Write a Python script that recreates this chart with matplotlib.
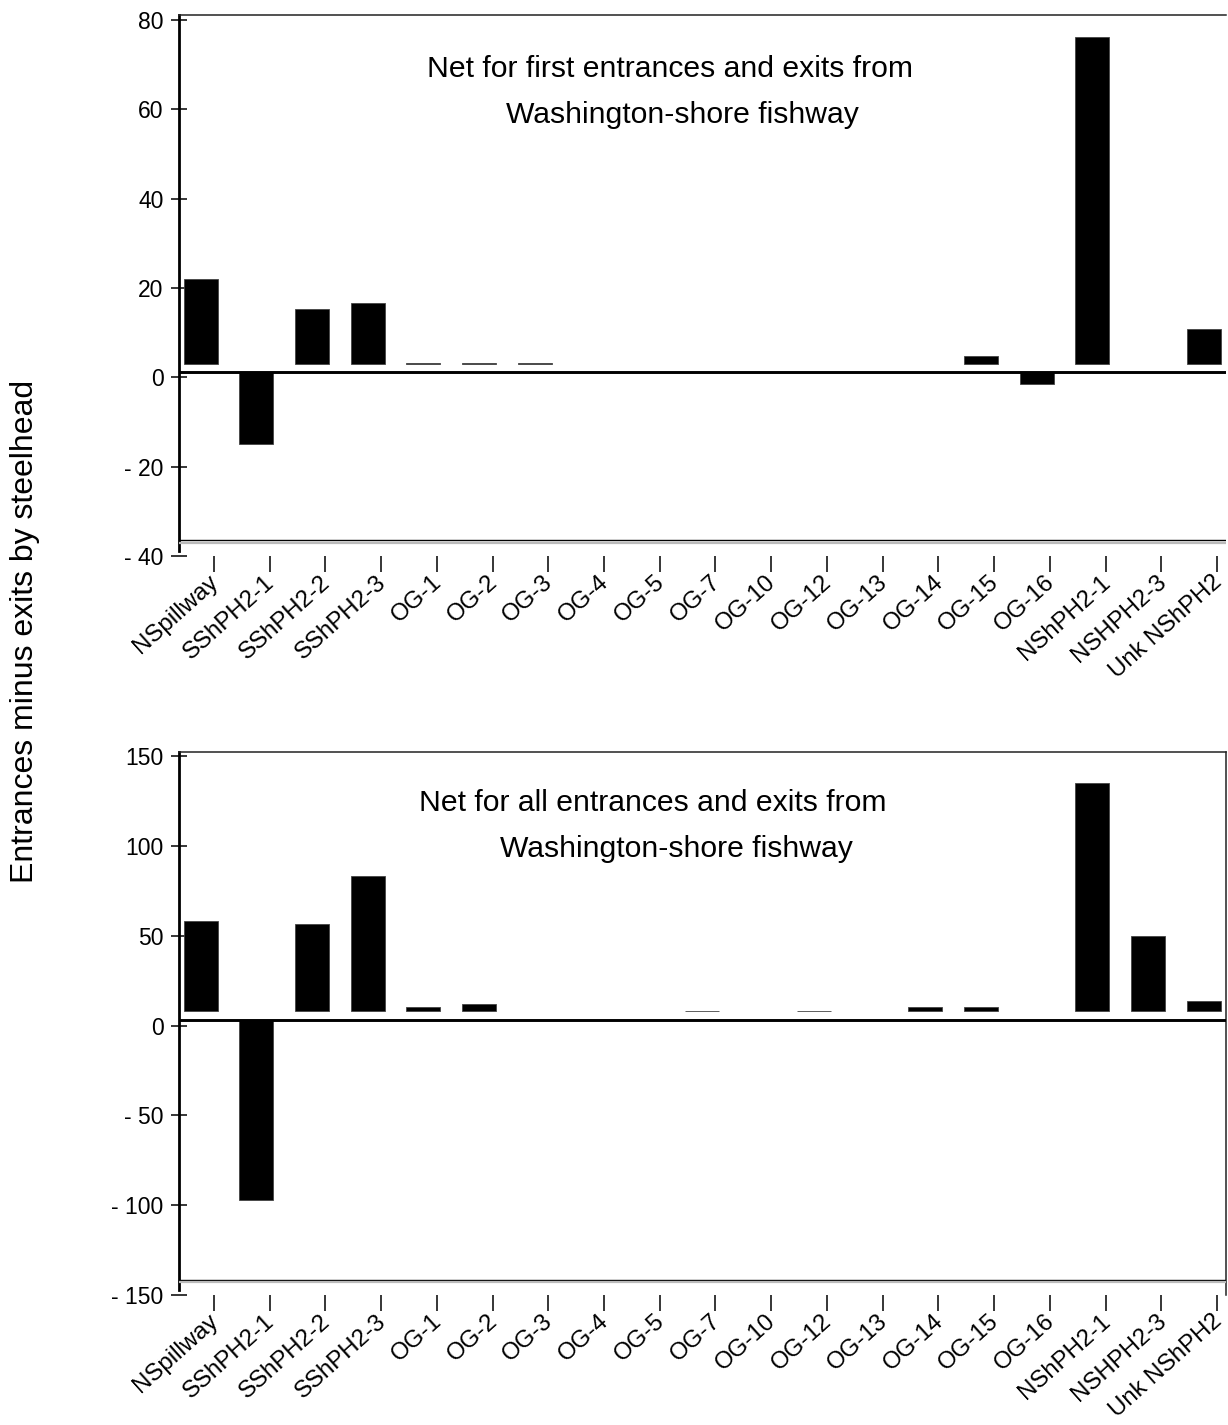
import numpy as np
import matplotlib.pyplot as plt
from matplotlib.ticker import FuncFormatter

plt.rcParams['font.family'] = ['Liberation Sans', 'DejaVu Sans']

# categories along the x axis (same for both panels)
sites = ['NSpillway', 'SShPH2-1', 'SShPH2-2', 'SShPH2-3', 'OG-1', 'OG-2', 'OG-3',
         'OG-4', 'OG-5', 'OG-7', 'OG-10', 'OG-12', 'OG-13', 'OG-14', 'OG-15',
         'OG-16', 'NShPH2-1', 'NSHPH2-3', 'Unk NShPH2']

# bar ends read off the axis scale, None = no bar drawn
first_net = [22.0, -15.0, 15.3, 16.6, 3.3, 3.3, 3.3,
             None, None, None, None, None, None, None, 4.7,
             -1.6, 76.2, None, 10.8]
all_net = [58.3, -97.4, 56.7, 83.3, 10.2, 12.0, None,
           None, None, 8.3, None, 8.3, None, 10.2, 10.2,
           None, 134.8, 49.8, 13.5]

first_ticks = [80, 60, 40, 20, 0, -20, -40]
all_ticks = [150, 100, 50, 0, -50, -100, -150]

W, H = 1228, 1425
fig = plt.figure(figsize=(W / 100, H / 100), dpi=100)


def fmt(v, pos):
    v = int(round(v))
    return '- %d' % abs(v) if v < 0 else '%d' % v


def panel(ax, vals, ticks, ylim, zero_line, pos_base, floor_line, shade):
    x = np.arange(len(sites))
    xs, bottoms, heights = [], [], []
    for i, v in zip(x, vals):
        if v is None:
            continue
        base = pos_base if v > 0 else zero_line
        xs.append(i)
        bottoms.append(base)
        heights.append(v - base)
    ax.bar(xs, heights, bottom=bottoms, width=0.61, color='black',
           edgecolor='#444444', linewidth=0.6, zorder=3)

    ax.axhline(zero_line, color='black', lw=2.1, zorder=4)
    ax.axhline(floor_line, color='black', lw=1.0, zorder=4)
    ax.axhline(floor_line - shade, color='#bbbbbb', lw=1.6, zorder=4)

    ax.set_xlim(-0.386, 18.4)
    ax.set_ylim(*ylim)
    ax.set_yticks(ticks)
    ax.yaxis.set_major_formatter(FuncFormatter(fmt))
    ax.tick_params(axis='y', direction='inout', length=12, width=1.1,
                   pad=5, labelsize=16.5)

    ax.set_xticks(x + 0.24)
    ax.set_xticklabels(sites)
    ax.tick_params(axis='x', direction='out', length=11.5, width=1.1,
                   pad=4, labelsize=17.3)
    for lab in ax.get_xticklabels():
        lab.set_rotation(42)
        lab.set_ha('right')
        lab.set_va('center_baseline')
        lab.set_rotation_mode('anchor')

    ax.spines['bottom'].set_visible(False)
    ax.spines['left'].set_linewidth(2.0)
    ax.spines['left'].set_bounds(floor_line - shade * 4, ylim[1])
    ax.spines['top'].set_linewidth(1.1)
    ax.spines['top'].set_color('#222222')
    ax.spines['right'].set_linewidth(1.1)
    ax.spines['right'].set_color('#222222')


ax1 = fig.add_axes([179 / W, 1 - 556 / H, (1226 - 179) / W, (556 - 15) / H])
panel(ax1, first_net, first_ticks, (-40, 81.1), 1.2, 3.0, -36.4, 0.6)
ax1.spines['right'].set_visible(False)

ax2 = fig.add_axes([179 / W, 1 - 1295 / H, (1226 - 179) / W, (1295 - 751.7) / H])
panel(ax2, all_net, all_ticks, (-150, 152.4), 3.3, 7.8, -141.5, 1.4)

fig.text(670 / W, 1 - 77 / H, 'Net for first entrances and exits from',
         ha='center', va='baseline', fontsize=21.7)
fig.text(682 / W, 1 - 123 / H, 'Washington-shore fishway',
         ha='center', va='baseline', fontsize=21.7)
fig.text(653 / W, 1 - 811 / H, 'Net for all entrances and exits from',
         ha='center', va='baseline', fontsize=21.7)
fig.text(676 / W, 1 - 857 / H, 'Washington-shore fishway',
         ha='center', va='baseline', fontsize=21.7)

fig.text(25 / W, 1 - 631 / H, 'Entrances minus exits by steelhead',
         rotation=90, ha='center', va='center', fontsize=23)

fig.savefig('out.png', dpi=100)
